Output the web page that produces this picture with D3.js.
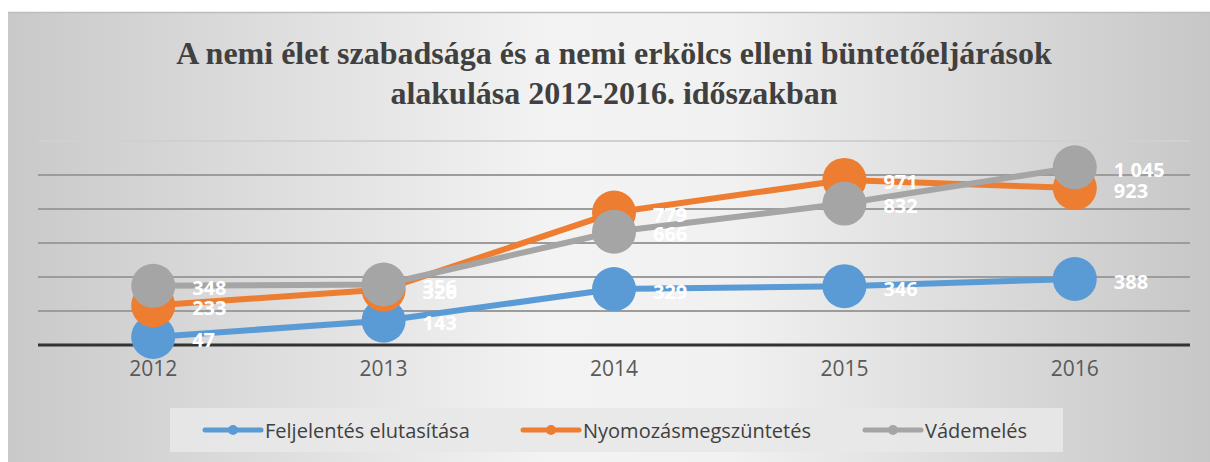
<!DOCTYPE html>
<html><head><meta charset="utf-8">
<script src="https://cdn.jsdelivr.net/npm/d3@7"></script>
<style>html,body{margin:0;padding:0;background:#fff;}svg{display:block;}</style>
</head><body>
<svg id="chart" width="1210" height="462"></svg>
<script>
const years = ["2012","2013","2014","2015","2016"];
const feljelentes = [47, 143, 329, 346, 388];
const nyomozas = [233, 326, 779, 971, 923];
const vademeles = [348, 356, 666, 832, 1045];
const seriesNames = ["Feljelentés elutasítása","Nyomozásmegszüntetés","Vádemelés"];
const seriesColors = ["#5b9bd5","#ed7d31","#a5a5a5"];
const yTicks = [0,200,400,600,800,1000,1200];
const titleLines = ["A nemi élet szabadsága és a nemi erkölcs elleni büntetőeljárások","alakulása 2012-2016. időszakban"];

const series = [feljelentes, nyomozas, vademeles].map((v,i)=>({name:seriesNames[i], color:seriesColors[i], values:v}));

const svg = d3.select("#chart");
const defs = svg.append("defs");
const g1 = defs.append("linearGradient").attr("id","bg").attr("x1","0").attr("x2","1").attr("y1","0").attr("y2","0");
[["0%","#c9c9c9"],["45%","#f3f3f3"],["60%","#f1f1f1"],["100%","#c7c7c7"]].forEach(s=>g1.append("stop").attr("offset",s[0]).attr("stop-color",s[1]));

svg.append("rect").attr("x",8).attr("y",12).attr("width",1202).attr("height",450).attr("fill","url(#bg)");
svg.append("line").attr("x1",8).attr("x2",1210).attr("y1",12.5).attr("y2",12.5).attr("stroke","#bdbdbd").attr("stroke-width",1.5);

// title
const title = svg.append("text").attr("text-anchor","middle").attr("font-family","'Liberation Serif', 'Times New Roman', serif")
  .attr("font-weight","bold").attr("font-size",32).attr("fill","#404040");
titleLines.forEach((t,i)=>title.append("tspan").attr("x",614).attr("y",64+i*40).text(t));

const x = d3.scaleBand().domain(years).range([38,1190]).padding(0);
const y = d3.scaleLinear().domain([0,1200]).range([345,141]);
const cx = d => x(d) + x.bandwidth()/2;

// gridlines
svg.append("g").selectAll("line").data(yTicks.filter(t=>t>0)).join("line")
  .attr("x1",38).attr("x2",1190).attr("y1",d=>y(d)).attr("y2",d=>y(d))
  .attr("stroke",d=>d===1200?"#d0d0d0":"#9c9c9c").attr("stroke-width",2);

// x axis
const xAxis = svg.append("g").attr("transform",`translate(0,${y(0)})`).call(d3.axisBottom(x).tickSize(0).tickPadding(16));
xAxis.select(".domain").attr("stroke","#333").attr("stroke-width",3).attr("d","M38,0H1190");
xAxis.selectAll("text").attr("font-family","'Open Sans', sans-serif").attr("font-size",21).attr("fill","#595959");

const line = d3.line().x((d,i)=>cx(years[i])).y(d=>y(d));
series.forEach(s=>{
  const g = svg.append("g");
  g.append("path").datum(s.values).attr("d",line).attr("fill","none").attr("stroke",s.color).attr("stroke-width",6).attr("stroke-linejoin","round");
  g.selectAll("circle").data(s.values).join("circle").attr("cx",(d,i)=>cx(years[i])).attr("cy",d=>y(d)).attr("r",22).attr("fill",s.color);
});
const fmt = v => v >= 1000 ? d3.format(",")(v).replace(",", " ") : String(v);
series.forEach(s=>{
  svg.append("g").selectAll("text").data(s.values).join("text")
    .attr("x",(d,i)=>cx(years[i])+39).attr("y",d=>y(d)+2).attr("dominant-baseline","central")
    .attr("font-family","'Open Sans', sans-serif").attr("font-weight","bold").attr("font-size",20).attr("fill","#fff")
    .text(fmt);
});

// legend
svg.append("rect").attr("x",170).attr("y",408).attr("width",893).attr("height",44).attr("fill","#e8e8e8").attr("opacity",0.9);
const legX = [205, 523, 865];
series.forEach((s,i)=>{
  const g = svg.append("g").attr("transform",`translate(${legX[i]},430)`);
  g.append("line").attr("x1",0).attr("x2",56).attr("stroke",s.color).attr("stroke-width",5).attr("stroke-linecap","round");
  g.append("circle").attr("cx",28).attr("r",5).attr("fill",s.color);
  g.append("text").attr("x",60).attr("dominant-baseline","central").attr("font-family","'Open Sans', sans-serif")
    .attr("font-size",20).attr("fill","#404040").text(s.name);
});
</script>
</body></html>
